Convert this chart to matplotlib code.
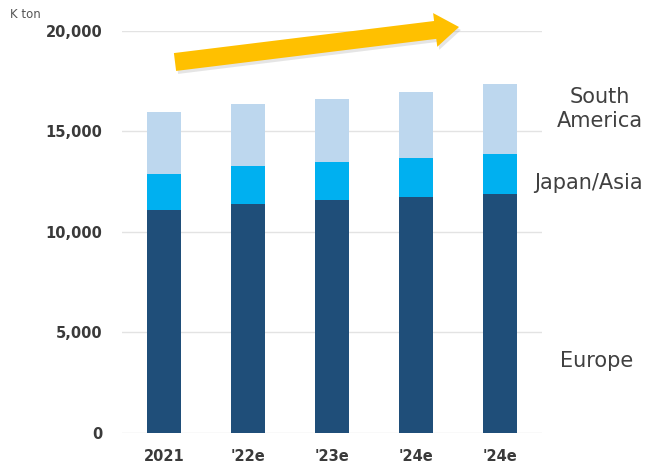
import numpy as np
import matplotlib
matplotlib.use("Agg")
from matplotlib import pyplot as plt
from matplotlib.patches import FancyArrow
from matplotlib.ticker import FuncFormatter

# data (K ton)
years = ["2021", "'22e", "'23e", "'24e", "'24e"]
europe = [11090, 11390, 11560, 11700, 11870]
japan_asia = [1780, 1860, 1890, 1950, 2000]
south_america = [3070, 3110, 3170, 3290, 3490]

c_eu = "#1F4E79"
c_ja = "#00B0F0"
c_sa = "#BDD7EE"
txt = "#3A3A3A"

fig = plt.figure(figsize=(6.49, 4.71), dpi=100)
ax = fig.add_axes([0.188, 0.0817, 0.647, 0.853])

x = np.arange(len(years))
eu = np.array(europe)
ja = np.array(japan_asia)
sa = np.array(south_america)
ax.bar(x, eu, width=0.4, color=c_eu, zorder=3)
ax.bar(x, ja, width=0.4, bottom=eu, color=c_ja, zorder=3)
ax.bar(x, sa, width=0.4, bottom=eu + ja, color=c_sa, zorder=3)

ax.set_xlim(-0.5, 4.5)
ax.set_ylim(0, 20000)
ax.set_yticks([0, 5000, 10000, 15000, 20000])
ax.yaxis.set_major_formatter(FuncFormatter(lambda v, p: f"{int(v):,}"))
ax.set_xticks(x)
ax.set_xticklabels(years)
ax.grid(axis="y", color="#E3E3E3", lw=1, zorder=0)
for s in ax.spines.values():
    s.set_visible(False)
ax.tick_params(length=0, labelsize=10.5, colors=txt, pad=14)
ax.tick_params(axis="x", pad=12)
for lab in ax.get_xticklabels() + ax.get_yticklabels():
    lab.set_fontweight("bold")

fig.text(10 / 649, 1 - 14 / 471, "K ton", fontsize=8.5, color="#555555", va="center")

# series labels at right
fig.text(600 / 649, 1 - 109 / 471, "South\nAmerica", fontsize=15, color="#404040",
         ha="center", va="center", linespacing=1.3)
fig.text(588 / 649, 1 - 183 / 471, "Japan/Asia", fontsize=15, color="#404040",
         ha="center", va="center")
fig.text(597 / 649, 1 - 361 / 471, "Europe", fontsize=15, color="#404040",
         ha="center", va="center")

# growth arrow, drawn in pixel-like units on an overlay
ov = fig.add_axes([0, 0, 1, 1], facecolor="none")
ov.set_xlim(0, 649)
ov.set_ylim(471, 0)
ov.axis("off")
x0, y0, x1, y1 = 175, 62, 459, 27
ov.add_patch(FancyArrow(x0 + 2, y0 + 3, x1 - x0, y1 - y0, width=18, head_width=34,
                        head_length=24, length_includes_head=True,
                        color="#999999", alpha=0.25, lw=0))
ov.add_patch(FancyArrow(x0, y0, x1 - x0, y1 - y0, width=18, head_width=34,
                        head_length=24, length_includes_head=True,
                        color="#FFC000", lw=0))

fig.savefig("out.png", dpi=100)
